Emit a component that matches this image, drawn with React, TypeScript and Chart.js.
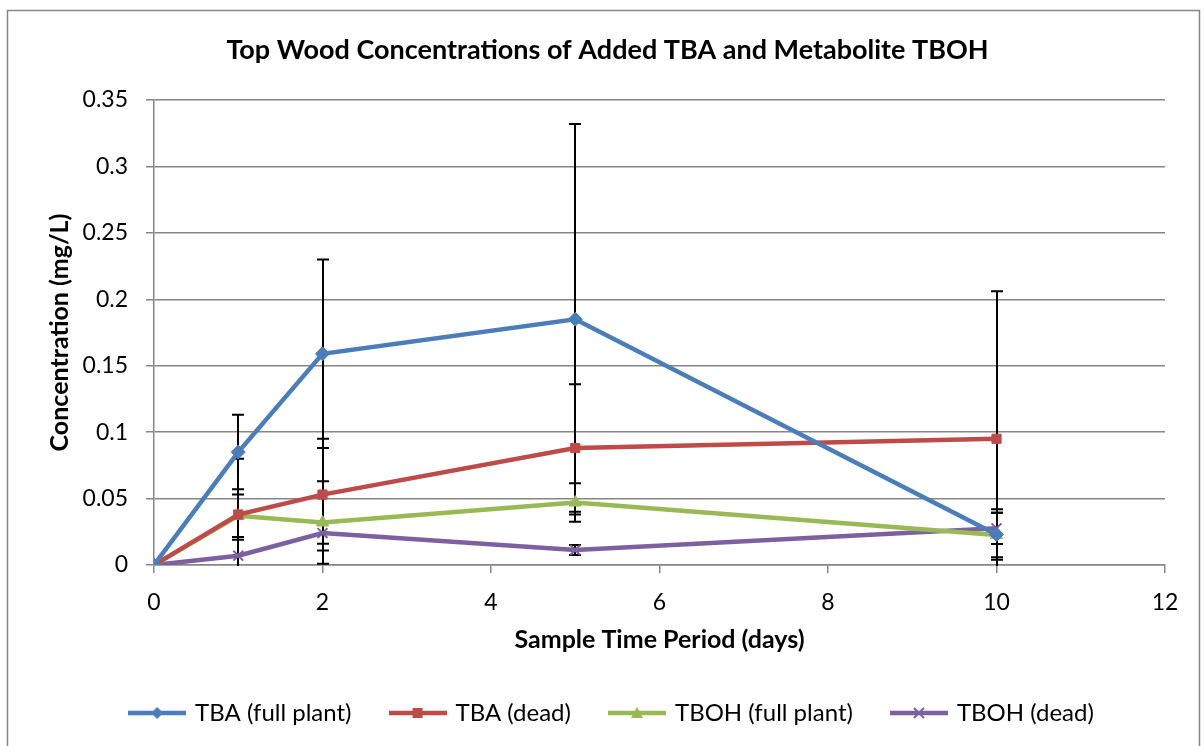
import React, { useEffect, useRef } from "react";
import { Chart, registerables } from "chart.js";

Chart.register(...registerables);

// ---- data ----
const days = [0, 1, 2, 5, 10];
const seriesNames = ["TBA (full plant)", "TBA (dead)", "TBOH (full plant)", "TBOH (dead)"];
const tbaFull = [0, 0.085, 0.159, 0.185, 0.023];
const tbaFullErr = [0, 0.028, 0.071, 0.147, 0.019];
const tbaDead = [0, 0.038, 0.053, 0.088, 0.095];
const tbaDeadErr = [0, 0.042, 0.042, 0.048, 0.111];
const tbohFull = [0, 0.037, 0.032, 0.047, 0.0226];
const tbohFullErr = [0, 0.016, 0.031, 0.0145, 0.0168];
const tbohDead = [0, 0.007, 0.024, 0.0113, 0.0276];
const tbohDeadErr = [0, 0.012, 0.008, 0.0038, 0.0118];
const yTicks = [0, 0.05, 0.1, 0.15, 0.2, 0.25, 0.3, 0.35];
const xTicks = [0, 2, 4, 6, 8, 10, 12];

const colors = ["#4A7EBB", "#BE4B48", "#98B954", "#7D60A0"];
const styles = ["rectRot", "rect", "triangle", "crossRot"];
const FONT = "Lato, 'Open Sans', sans-serif";

function legendIcon(color: string, style: string): HTMLCanvasElement {
  const c = document.createElement("canvas");
  c.width = 58;
  c.height = 16;
  const g = c.getContext("2d")!;
  g.strokeStyle = color;
  g.fillStyle = color;
  g.lineWidth = 4.5;
  g.beginPath();
  g.moveTo(0, 8);
  g.lineTo(58, 8);
  g.stroke();
  const cx = 29, cy = 8;
  g.beginPath();
  if (style === "rectRot") {
    g.moveTo(cx, cy - 6); g.lineTo(cx + 6, cy); g.lineTo(cx, cy + 6); g.lineTo(cx - 6, cy); g.closePath(); g.fill();
  } else if (style === "rect") {
    g.fillRect(cx - 5, cy - 5, 10, 10);
  } else if (style === "triangle") {
    g.moveTo(cx, cy - 6); g.lineTo(cx + 6, cy + 5); g.lineTo(cx - 6, cy + 5); g.closePath(); g.fill();
  } else {
    g.lineWidth = 2;
    g.moveTo(cx - 5, cy - 5); g.lineTo(cx + 5, cy + 5); g.moveTo(cx + 5, cy - 5); g.lineTo(cx - 5, cy + 5); g.stroke();
  }
  return c;
}

const framePlugin = {
  id: "frame",
  beforeDraw(chart: any) {
    const { ctx } = chart;
    ctx.save();
    ctx.fillStyle = "#fff";
    ctx.fillRect(0, 0, chart.width, chart.height);
    ctx.strokeStyle = "#868686";
    ctx.lineWidth = 1.5;
    ctx.strokeRect(7.5, 10.5, 1192, 800);
    ctx.restore();
  },
  afterLayout(chart: any) {
    const t = chart.titleBlock;
    if (t) { t.left += 25; t.right += 25; }
    const l = chart.legend;
    if (l) { l.left += 30; l.right += 30; }
  },
};

const errorBarPlugin = {
  id: "errorBars",
  beforeDatasetsDraw(chart: any) {
    const { ctx, chartArea, scales } = chart;
    const x = scales.x, y = scales.y;
    ctx.save();
    ctx.beginPath();
    ctx.rect(chartArea.left - 10, chartArea.top, chartArea.width + 20, chartArea.height + 1);
    ctx.clip();
    ctx.strokeStyle = "#000";
    ctx.lineWidth = 2;
    chart.data.datasets.forEach((ds: any) => {
      const errs: number[] = ds.errors;
      ds.data.forEach((p: any, i: number) => {
        const e = errs[i];
        if (!e) return;
        const px = Math.round(x.getPixelForValue(p.x));
        const top = y.getPixelForValue(p.y + e);
        const bot = y.getPixelForValue(p.y - e);
        ctx.beginPath();
        ctx.moveTo(px, top);
        ctx.lineTo(px, bot);
        ctx.moveTo(px - 6, top);
        ctx.lineTo(px + 6, top);
        ctx.moveTo(px - 6, bot);
        ctx.lineTo(px + 6, bot);
        ctx.stroke();
      });
    });
    ctx.restore();
  },
};

export default function App() {
  const ref = useRef<HTMLCanvasElement | null>(null);
  useEffect(() => {
    if (!ref.current) return;
    const values = [tbaFull, tbaDead, tbohFull, tbohDead];
    const errs = [tbaFullErr, tbaDeadErr, tbohFullErr, tbohDeadErr];
    const icons = colors.map((c, i) => legendIcon(c, styles[i]));
    const datasets: any[] = values.map((vals, i) => ({
      label: seriesNames[i],
      data: days.map((d, j) => ({ x: d, y: vals[j] })),
      errors: errs[i],
      borderColor: colors[i],
      backgroundColor: colors[i],
      borderWidth: 4.5,
      pointStyle: styles[i],
      pointRadius: styles[i] === "rect" ? 6.5 : 7,
      pointBorderWidth: styles[i] === "crossRot" ? 2 : 1,
      pointBackgroundColor: colors[i],
      pointBorderColor: colors[i],
      tension: 0,
    }));
    const chart = new Chart(ref.current, {
      type: "line",
      data: { datasets },
      plugins: [framePlugin, errorBarPlugin],
      options: {
        responsive: false,
        animation: false,
        layout: { padding: { left: 0, right: 39, top: 0, bottom: 11 } },
        plugins: {
          tooltip: { enabled: false },
          title: {
            display: true,
            text: "Top Wood Concentrations of Added TBA and Metabolite TBOH",
            color: "#000",
            font: { family: FONT, size: 27, weight: "bold" },
            padding: { top: 34, bottom: 33.6 },
          },
          legend: {
            position: "bottom",
            labels: {
              color: "#000",
              font: { family: FONT, size: 24 },
              usePointStyle: true,
              pointStyleWidth: 52,
              padding: 40,
              generateLabels: (ch: any) =>
                ch.data.datasets.map((ds: any, i: number) => ({
                  text: ds.label,
                  pointStyle: icons[i],
                  fillStyle: colors[i],
                  strokeStyle: colors[i],
                  lineWidth: 0,
                  datasetIndex: i,
                  hidden: false,
                  fontColor: "#000",
                })),
            },
          },
        },
        scales: {
          x: {
            type: "linear",
            min: 0,
            max: 12,
            afterBuildTicks: (s: any) => { s.ticks = xTicks.map((v) => ({ value: v })); },
            afterFit: (s: any) => { s.height = 96; },
            ticks: { color: "#000", font: { family: FONT, size: 23 }, padding: 16, maxRotation: 0 },
            grid: { drawOnChartArea: false, drawTicks: true, tickLength: 8, color: "#868686", lineWidth: 1.5 },
            border: { color: "#868686", width: 1.5 },
            title: {
              display: true,
              text: "Sample Time Period (days)",
              color: "#000",
              font: { family: FONT, size: 25, weight: "bold" },
              padding: { top: 0, bottom: 6 },
            },
          },
          y: {
            type: "linear",
            min: 0,
            max: 0.35,
            afterBuildTicks: (s: any) => { s.ticks = yTicks.map((v) => ({ value: v })); },
            afterFit: (s: any) => { s.width = 154; },
            ticks: {
              color: "#000",
              font: { family: FONT, size: 23 },
              padding: 18,
              callback: (v: any) => String(parseFloat(Number(v).toFixed(2))),
            },
            grid: { color: "#868686", lineWidth: 1.5, tickLength: 8 },
            border: { color: "#868686", width: 1.5 },
            title: {
              display: true,
              text: "Concentration (mg/L)",
              color: "#000",
              font: { family: FONT, size: 25, weight: "bold" },
              padding: { top: 45, bottom: 0 },
            },
          },
        },
      } as any,
    });
    return () => chart.destroy();
  }, []);
  return (
    <div style={{ position: "fixed", left: 0, top: 0, width: 1204, height: 746 }}>
      <canvas ref={ref} width={1204} height={746} style={{ width: 1204, height: 746, display: "block" }} />
    </div>
  );
}
